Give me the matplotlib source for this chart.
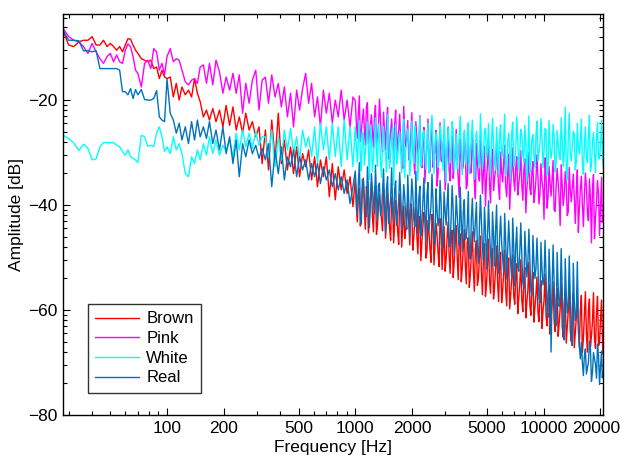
import numpy as np
import matplotlib
matplotlib.use("Agg")
import matplotlib.pyplot as plt
from matplotlib.ticker import FixedLocator, NullFormatter
from matplotlib.transforms import ScaledTranslation

plt.rcParams['font.family'] = ['Liberation Sans', 'DejaVu Sans']

# ---- data (Hz / dB) ----
freq_low = [28, 30, 32, 34, 36, 38, 40, 42, 44, 46, 48, 50, 52, 54, 56, 58,
            60, 62, 64, 66, 68, 70, 73, 76, 79, 82, 85, 88, 91, 94, 97]
freq_mid = [100, 104, 108, 112, 116, 120, 125, 130, 135, 140, 145, 150, 156,
            162, 168, 175, 182, 190, 198, 206, 215, 224, 233, 242, 252, 262,
            273, 284, 296, 308, 320, 333, 346, 360, 375, 390, 405, 420, 436,
            453, 470, 488, 506, 525, 545, 565, 586, 608, 630, 653, 677, 702,
            728, 755, 783, 812, 842, 873, 905, 938, 972]
freq_high = [1000, 1025, 1051, 1077, 1104, 1131, 1160, 1189, 1218, 1249,
             1280, 1312, 1345, 1379, 1413, 1448, 1485, 1522, 1560, 1599,
             1639, 1680, 1722, 1765, 1809, 1854, 1900, 1948, 1997, 2046,
             2098, 2150, 2204, 2259, 2315, 2373, 2433, 2493, 2556, 2620,
             2685, 2752, 2821, 2892, 2964, 3038, 3114, 3192, 3271, 3353,
             3437, 3523, 3611, 3701, 3794, 3889, 3986, 4085, 4188, 4292,
             4400, 4510, 4622, 4738, 4856, 4978, 5102, 5230, 5360, 5494,
             5632, 5772, 5917, 6065, 6216, 6372, 6531, 6694, 6862, 7033,
             7209, 7389, 7574, 7763, 7958, 8157, 8360, 8569, 8784, 9003,
             9228, 9459, 9696, 9938, 10187, 10441, 10702, 10970, 11244, 11525,
             11814, 12109, 12412, 12722, 13040, 13366, 13700, 14043, 14394, 14754,
             15123, 15501, 15888, 16285, 16693, 17110, 17537, 17976, 18425, 18886,
             19358, 19842, 20338, 20700]
# extra bins lying between the freq_high bins
freq_high_b = [1012, 1038, 1064, 1090, 1117, 1145, 1174, 1203, 1233, 1264,
               1296, 1328, 1362, 1396, 1430, 1466, 1503, 1541, 1579, 1619,
               1659, 1701, 1743, 1787, 1831, 1877, 1924, 1972, 2021, 2072,
               2124, 2177, 2231, 2287, 2344, 2403, 2463, 2524, 2588, 2652,
               2718, 2786, 2856, 2928, 3001, 3076, 3153, 3231, 3312, 3395,
               3480, 3567, 3656, 3747, 3841, 3937, 4035, 4136, 4240, 4346,
               4455, 4566, 4680, 4797, 4917, 5040, 5166, 5295, 5427, 5563,
               5702, 5844, 5991, 6140, 6294, 6451, 6612, 6778, 6947, 7121,
               7299, 7481, 7668, 7860, 8057, 8258, 8464, 8676, 8893, 9115,
               9343, 9577, 9817, 10062, 10314, 10571, 10836, 11107, 11384, 11669,
               11961, 12260, 12566, 12881, 13203, 13533, 13871, 14218, 14574, 14938,
               15312, 15694, 16086, 16489, 16901, 17323, 17756, 18200, 18655, 19122,
               19600, 20090, 20519]

brown_low = [-6.7, -9.5, -9.8, -8.9, -8.6, -8.6, -7.9, -9.5, -9.5, -8.6, -9.8,
             -9.2, -9.8, -10.5, -9.8, -10.8, -9.5, -8.3, -8.4, -9.5, -10.5,
             -11.1, -12.1, -12.4, -12.7, -12.4, -14.0, -13.7, -15.9, -14.3, -15.6]
brown_mid = [-15.9, -15.6, -19.4, -16.8, -20.0, -17.5, -19.0, -18.1, -19.4, -15.9,
             -18.7, -20.3, -23.2, -21.9, -23.8, -21.6, -24.1, -21.9, -25.1, -21.0,
             -24.8, -21.3, -25.7, -23.2, -26.3, -22.5, -25.7, -24.1, -27.0, -25.1,
             -32.1, -25.7, -33.3, -23.8, -31.4, -22.5, -32.1, -27.6, -33.3, -28.9,
             -34.0, -28.9, -34.6, -30.2, -32.7, -29.5, -35.2, -30.8, -36.5, -31.4,
             -34.6, -30.8, -38.4, -32.1, -39.0, -32.7, -37.1, -33.3, -37.8, -34.6,
             -40.3]
brown_high = [-35.0, -43.2, -36.8, -41.5, -34.9, -44.6, -37.4, -42.0, -35.7, -45.1,
              -36.2, -43.9, -38.0, -42.7, -36.9, -46.3, -37.7, -44.4, -38.6, -47.2,
              -39.1, -45.0, -37.9, -48.0, -40.2, -44.8, -39.4, -47.6, -41.0, -46.1,
              -40.5, -49.3, -42.2, -47.0, -41.4, -50.1, -42.9, -48.2, -41.8, -51.4,
              -43.5, -49.0, -42.6, -52.3, -44.1, -50.4, -43.2, -53.0, -44.8, -51.0,
              -43.9, -54.2, -45.5, -52.1, -44.7, -55.0, -46.2, -53.3, -45.1, -56.4,
              -46.8, -54.0, -45.9, -57.1, -47.4, -55.2, -46.5, -56.8, -48.3, -55.7,
              -47.8, -58.4, -49.0, -56.3, -48.6, -59.2, -50.1, -57.0, -49.5, -58.9,
              -51.2, -57.6, -50.4, -60.3, -51.9, -58.5, -50.9, -61.0, -52.8, -59.4,
              -53.7, -62.2, -54.4, -60.1, -53.1, -63.0, -55.2, -61.3, -54.6, -64.1,
              -55.9, -62.5, -54.9, -65.2, -56.3, -63.4, -55.5, -66.0, -56.8, -64.2,
              -56.0, -67.1, -57.2, -65.4, -56.5, -68.0, -57.9, -64.9, -56.7, -67.3,
              -57.4, -66.2, -58.1, -68.4]
brown_high_b = [-40.1, -38.3, -44.0, -37.2, -40.8, -36.5, -45.3, -39.0, -42.2, -37.6,
                -45.6, -39.8, -41.3, -44.9, -38.4, -42.8, -40.6, -46.7, -39.5, -43.4,
                -41.7, -47.5, -40.3, -44.2, -46.4, -41.9, -43.6, -39.8, -48.6, -42.7,
                -45.9, -43.1, -50.6, -44.0, -42.3, -48.8, -45.2, -50.9, -43.7, -47.4,
                -45.6, -51.7, -44.4, -48.3, -52.6, -46.1, -49.7, -45.4, -53.8, -47.2,
                -49.9, -46.3, -54.6, -48.1, -51.4, -47.0, -55.7, -49.2, -52.5, -48.4,
                -55.3, -50.0, -53.2, -49.6, -57.4, -51.1, -54.3, -50.7, -57.9, -52.0,
                -54.8, -51.6, -58.6, -53.0, -56.1, -52.4, -59.8, -54.2, -57.3, -53.5,
                -60.7, -55.0, -58.2, -54.4, -61.5, -56.2, -59.1, -55.6, -62.3, -57.0,
                -60.4, -56.6, -63.5, -58.2, -61.1, -57.5, -64.6, -59.0, -62.0, -58.1,
                -65.0, -59.6, -63.1, -58.8, -66.3, -60.2, -64.0, -59.7, -67.2, -61.4,
                -63.8, -60.1, -68.1, -61.0, -64.6, -59.8, -67.0, -62.2, -65.5, -60.4,
                -66.8, -61.6, -64.4]

pink_low = [-6.3, -7.9, -8.6, -8.9, -9.8, -11.1, -9.2, -10.8, -12.1, -13.0, -11.7,
            -11.1, -12.7, -11.4, -12.7, -13.0, -10.5, -9.3, -9.8, -11.7, -14.3,
            -14.9, -17.5, -13.0, -12.4, -14.0, -10.2, -10.8, -14.3, -13.0, -15.2]
pink_mid = [-11.7, -10.2, -12.7, -12.1, -12.4, -14.3, -16.5, -17.1, -16.2, -15.9,
            -16.8, -13.7, -13.3, -16.8, -13.0, -17.1, -12.4, -14.6, -18.7, -15.6,
            -18.1, -14.9, -18.7, -15.2, -22.5, -16.8, -20.6, -16.2, -14.3, -21.9,
            -16.2, -15.6, -20.6, -15.2, -19.4, -16.8, -21.3, -17.5, -23.2, -18.7,
            -25.1, -18.1, -21.9, -17.8, -14.9, -20.6, -16.8, -23.2, -19.4, -25.1,
            -18.1, -22.5, -18.7, -24.4, -20.0, -23.2, -18.1, -23.8, -20.0, -25.1,
            -19.4]
pink_high = [-20.1, -27.3, -19.2, -25.8, -21.7, -28.6, -20.5, -26.4, -22.8, -29.0,
             -21.0, -26.9, -19.8, -27.7, -22.3, -29.5, -21.4, -28.1, -23.6, -30.2,
             -21.9, -27.4, -22.7, -30.8, -21.2, -28.9, -23.9, -29.8, -22.4, -31.6,
             -24.1, -30.3, -23.0, -32.9, -25.2, -31.1, -23.6, -33.7, -24.7, -30.6,
             -25.8, -34.2, -24.3, -31.8, -26.5, -33.0, -25.1, -35.4, -26.9, -32.2,
             -25.6, -34.8, -27.4, -33.3, -26.2, -36.9, -27.9, -33.9, -25.9, -35.7,
             -28.3, -34.5, -26.7, -37.8, -28.8, -35.1, -27.2, -39.6, -29.4, -34.9,
             -28.0, -36.7, -29.9, -35.6, -28.6, -38.4, -30.3, -36.2, -29.1, -37.3,
             -30.8, -35.9, -29.6, -39.1, -31.2, -36.8, -30.0, -38.0, -31.7, -37.6,
             -30.4, -39.8, -32.1, -37.0, -31.0, -40.6, -32.6, -38.3, -31.5, -41.2,
             -33.0, -38.9, -32.3, -40.1, -33.6, -42.0, -32.8, -39.4, -34.1, -43.5,
             -33.3, -40.7, -34.5, -44.1, -33.9, -41.6, -35.0, -47.2, -34.2, -42.5,
             -35.3, -45.8, -34.7, -41.9]
pink_high_b = [-24.0, -22.6, -27.9, -23.8, -25.4, -21.5, -28.3, -24.6, -26.0, -23.1,
               -28.8, -25.0, -23.7, -29.9, -25.9, -24.3, -31.2, -26.1, -27.1, -24.8,
               -30.1, -25.6, -28.0, -33.0, -26.3, -27.5, -31.4, -26.8, -29.2, -34.1,
               -27.3, -28.9, -31.9, -27.8, -35.8, -29.0, -30.7, -27.1, -32.8, -29.6,
               -36.4, -29.3, -31.5, -28.4, -37.1, -30.1, -33.4, -29.7, -34.9, -30.6,
               -31.3, -38.6, -30.8, -32.6, -29.9, -36.1, -31.6, -33.8, -30.5, -38.8,
               -32.0, -35.4, -31.1, -33.6, -40.2, -32.4, -35.9, -31.9, -37.2, -33.2,
               -32.7, -38.9, -33.8, -32.2, -36.5, -34.3, -40.8, -33.5, -35.1, -32.9,
               -38.1, -34.0, -36.3, -33.4, -41.5, -34.6, -36.9, -33.7, -39.5, -35.2,
               -34.8, -37.9, -35.5, -42.7, -34.4, -38.6, -36.0, -35.1, -40.9, -36.4,
               -35.7, -43.9, -36.2, -38.0, -35.9, -41.3, -37.1, -36.6, -39.0, -37.5,
               -45.2, -36.8, -39.9, -38.2, -36.4, -43.0, -38.8, -37.0, -46.4, -39.3,
               -38.1, -40.5, -43.3]

white_low = [-26.7, -27.3, -28.2, -29.6, -28.4, -29.2, -31.4, -31.2, -28.9, -28.1,
             -28.1, -28.1, -28.1, -28.6, -28.9, -29.8, -30.5, -29.5, -30.8, -31.1,
             -31.4, -31.9, -26.7, -27.0, -28.8, -28.6, -28.9, -26.3, -25.1, -27.0,
             -29.8]
white_mid = [-28.9, -30.2, -27.0, -29.5, -28.3, -30.2, -34.0, -34.6, -30.8, -32.1,
             -29.5, -31.4, -28.3, -30.5, -27.0, -30.2, -27.6, -30.5, -28.6, -29.8,
             -27.6, -30.8, -26.3, -29.5, -25.7, -28.9, -26.3, -29.2, -26.0, -28.6,
             -27.0, -27.0, -30.8, -25.7, -32.7, -27.0, -31.4, -25.7, -29.5, -25.4,
             -30.2, -27.0, -31.4, -25.7, -28.9, -27.0, -30.8, -25.1, -32.1, -24.4,
             -29.5, -25.1, -31.4, -24.4, -30.8, -25.1, -32.7, -23.8, -31.4, -25.1,
             -32.7]
white_high = [-25.1, -31.8, -23.9, -33.5, -26.4, -29.9, -24.2, -35.1, -27.0, -31.2,
              -23.4, -32.6, -26.8, -34.7, -25.0, -30.4, -22.8, -33.0, -27.5, -36.2,
              -24.6, -31.0, -26.1, -33.8, -23.7, -29.4, -25.5, -34.4, -24.0, -32.1,
              -26.9, -35.3, -23.3, -30.7, -25.8, -33.2, -24.4, -31.5, -22.9, -34.0,
              -26.2, -32.8, -24.9, -30.1, -23.6, -35.6, -25.3, -31.9, -24.1, -33.6,
              -26.5, -30.6, -23.1, -34.2, -25.7, -32.3, -24.3, -29.8, -23.8, -35.0,
              -25.9, -31.4, -22.6, -33.1, -26.0, -30.9, -24.5, -34.6, -23.5, -32.0,
              -25.2, -33.9, -24.7, -29.6, -22.7, -32.5, -26.3, -34.9, -24.2, -31.3,
              -23.2, -33.4, -25.6, -30.2, -24.8, -35.4, -23.0, -31.7, -26.6, -33.0,
              -24.0, -29.9, -23.5, -32.9, -25.4, -34.3, -23.9, -31.1, -24.6, -33.7,
              -25.8, -30.5, -23.3, -32.7, -21.3, -35.2, -22.5, -31.6, -25.9, -33.3,
              -24.4, -30.3, -23.6, -34.1, -25.1, -31.9, -22.9, -32.4, -26.2, -33.8,
              -24.3, -31.2, -23.8, -32.6]
white_high_b = [-28.6, -27.4, -30.9, -26.1, -32.4, -27.7, -29.3, -24.8, -33.6, -28.0,
                -29.7, -24.6, -31.8, -27.2, -28.5, -33.7, -26.4, -30.6, -25.3, -29.1,
                -32.2, -27.9, -30.0, -25.8, -34.8, -28.3, -27.1, -31.4, -29.5, -24.9,
                -29.8, -27.6, -32.6, -26.3, -30.2, -28.4, -33.9, -25.6, -29.0, -28.7,
                -27.5, -31.2, -26.7, -33.4, -28.9, -29.4, -27.8, -30.7, -25.9, -29.9,
                -33.1, -27.0, -29.6, -28.2, -31.0, -26.6, -34.1, -27.4, -30.3, -28.8,
                -28.1, -32.9, -27.3, -30.5, -25.4, -29.2, -31.5, -27.9, -28.6, -33.3,
                -29.5, -26.9, -30.8, -27.6, -34.4, -28.0, -30.1, -26.2, -32.7, -29.1,
                -27.7, -30.3, -26.5, -31.9, -28.4, -29.7, -33.8, -27.2, -30.6, -26.8,
                -31.6, -28.3, -27.0, -30.0, -25.7, -33.0, -28.7, -29.4, -26.9, -32.0,
                -28.2, -31.3, -27.5, -29.8, -33.5, -27.1, -30.4, -28.9, -26.4, -31.7,
                -29.0, -27.8, -32.3, -28.5, -30.9, -26.7, -33.6, -28.1, -30.0, -27.3,
                -31.0, -28.6, -29.5]

real_low = [-6.7, -8.6, -8.6, -8.7, -10.6, -10.6, -10.8, -10.6, -14.0, -14.0,
            -14.0, -14.0, -14.0, -14.0, -14.3, -18.4, -18.4, -19.0, -17.8, -19.7,
            -18.0, -19.0, -18.0, -19.9, -20.0, -20.0, -19.7, -18.2, -23.2, -23.8,
            -24.1]
real_mid = [-16.0, -22.5, -23.8, -26.3, -24.4, -27.6, -25.1, -28.3, -24.1, -27.6,
            -23.8, -27.0, -25.1, -27.3, -24.1, -28.3, -25.7, -29.5, -25.1, -30.2,
            -27.0, -32.1, -27.6, -34.6, -28.3, -30.8, -27.6, -30.2, -28.6, -31.1,
            -29.2, -31.4, -28.3, -36.5, -29.5, -34.0, -28.9, -35.2, -30.8, -32.7,
            -29.5, -34.6, -30.8, -33.3, -31.4, -35.2, -32.1, -34.6, -32.1, -35.9,
            -32.7, -35.2, -33.3, -36.5, -34.0, -37.1, -34.6, -37.8, -35.2, -39.7,
            -36.5]
real_high = [-33.5, -41.8, -31.9, -43.6, -35.2, -40.1, -32.7, -44.3, -34.0, -39.5,
             -32.4, -42.9, -35.8, -41.0, -33.1, -45.2, -34.6, -40.7, -32.9, -43.1,
             -35.4, -41.6, -33.8, -44.7, -36.1, -42.2, -34.3, -46.0, -35.0, -42.8,
             -33.6, -45.5, -36.4, -43.3, -34.8, -47.1, -35.7, -42.5, -34.1, -46.4,
             -36.9, -44.0, -35.3, -48.2, -37.5, -43.8, -35.9, -47.6, -36.3, -49.4,
             -38.2, -45.1, -36.6, -48.9, -39.0, -46.2, -37.4, -50.3, -38.7, -47.0,
             -39.5, -51.1, -38.1, -48.0, -40.4, -52.2, -39.2, -49.1, -41.3, -51.6,
             -40.0, -53.0, -42.1, -50.2, -41.6, -54.1, -43.0, -51.3, -42.5, -55.4,
             -44.2, -52.6, -43.4, -54.8, -45.0, -53.7, -44.6, -56.5, -45.8, -54.0,
             -46.3, -57.8, -47.1, -55.2, -46.7, -60.1, -48.4, -68.0, -47.6, -61.9,
             -49.0, -59.3, -48.3, -63.5, -50.2, -60.6, -49.7, -64.8, -51.1, -62.0,
             -50.8, -66.9, -66.2, -72.5, -67.4, -71.0, -65.9, -73.6, -68.1, -70.4,
             -66.5, -74.2, -67.8, -71.9]
real_high_b = [-37.6, -36.0, -40.9, -35.1, -38.4, -42.2, -36.7, -39.8, -37.1, -41.6,
               -38.0, -36.3, -42.0, -37.4, -39.9, -36.8, -43.5, -38.9, -40.4, -37.0,
               -43.9, -39.2, -37.8, -41.1, -38.5, -44.6, -39.6, -40.0, -37.9, -44.1,
               -40.7, -38.6, -45.9, -39.3, -41.8, -38.1, -44.9, -40.2, -39.6, -47.3,
               -40.9, -42.6, -39.4, -45.7, -41.2, -40.0, -47.9, -42.3, -41.0, -44.4,
               -41.9, -47.6, -42.8, -41.5, -46.6, -43.4, -49.2, -42.6, -44.8, -43.0,
               -48.4, -44.1, -43.3, -50.5, -44.7, -46.3, -45.1, -51.9, -45.6, -44.9,
               -49.5, -46.2, -47.0, -52.7, -46.9, -48.7, -47.4, -53.9, -48.1, -47.7,
               -51.8, -48.9, -49.6, -55.9, -49.3, -51.0, -50.4, -57.2, -50.6, -52.1,
               -51.5, -58.6, -52.3, -54.0, -53.1, -61.4, -53.9, -55.7, -54.6, -63.0,
               -55.4, -57.9, -56.2, -65.7, -56.8, -58.9, -57.5, -66.8, -58.4, -60.5,
               -62.0, -69.3, -70.0, -68.7, -72.2, -69.9, -67.4, -71.8, -69.2, -73.0,
               -68.8, -70.7, -72.9]


def assemble(low, mid, high, high_b):
    f = np.array(freq_low + freq_mid + freq_high + freq_high_b, dtype=float)
    v = np.array(low + mid + high + high_b, dtype=float)
    order = np.argsort(f)
    return f[order], v[order]


series = [
    ('Brown', (brown_low, brown_mid, brown_high, brown_high_b), '#ff0000'),
    ('Pink', (pink_low, pink_mid, pink_high, pink_high_b), '#ff00ff'),
    ('White', (white_low, white_mid, white_high, white_high_b), '#00ffff'),
    ('Real', (real_low, real_mid, real_high, real_high_b), '#0072bd'),
]

fs = 12.5
fig = plt.figure(figsize=(6.21, 4.55), dpi=100)
ax = fig.add_axes([0.1014, 0.0879, 0.8696, 0.8813])

for name, parts, col in series:
    f, v = assemble(*parts)
    ax.semilogx(f, v, color=col, lw=1.0, label=name)

ax.set_xlim(28, 20700)
ax.set_ylim(-80, -3.6)

xticks = [100, 200, 500, 1000, 2000, 5000, 10000, 20000]
ax.set_xticks(xticks)
ax.set_xticklabels([str(t) for t in xticks])
ax.xaxis.set_minor_locator(FixedLocator(
    [k * 10 ** e for e in range(1, 5) for k in range(2, 10)]))
ax.xaxis.set_minor_formatter(NullFormatter())

ax.set_yticks([-80, -60, -40, -20])
ax.set_yticklabels(['\u221280', '\u221260', '\u221240', '\u221220'])
ax.yaxis.set_minor_locator(FixedLocator(
    [m + 20 * np.log10(k) for m in (-80, -60, -40, -20) for k in range(2, 10)]))

ax.tick_params(which='both', direction='in', top=True, right=True,
               labelsize=fs, width=0.8)
ax.tick_params(which='major', length=5, pad=4)
ax.tick_params(which='minor', length=3)
for s in ax.spines.values():
    s.set_linewidth(1.0)

# keep the last frequency label inside the figure edge
last = ax.get_xticklabels()[-1]
last.set_transform(last.get_transform() +
                   ScaledTranslation(-3 / 72, 0, fig.dpi_scale_trans))

ax.set_xlabel('Frequency [Hz]', fontsize=fs, labelpad=3)
ax.set_ylabel('Amplitude [dB]', fontsize=fs, labelpad=3)

leg = ax.legend(loc='lower left', bbox_to_anchor=(0.046, 0.055), borderaxespad=0,
                fontsize=12, fancybox=False, edgecolor='black',
                handlelength=2.6, labelspacing=0.28, borderpad=0.45,
                handletextpad=0.45)
leg.get_frame().set_linewidth(1.0)
for ln in leg.get_lines():
    ln.set_linewidth(1.0)

fig.savefig('out.png', dpi=100)
